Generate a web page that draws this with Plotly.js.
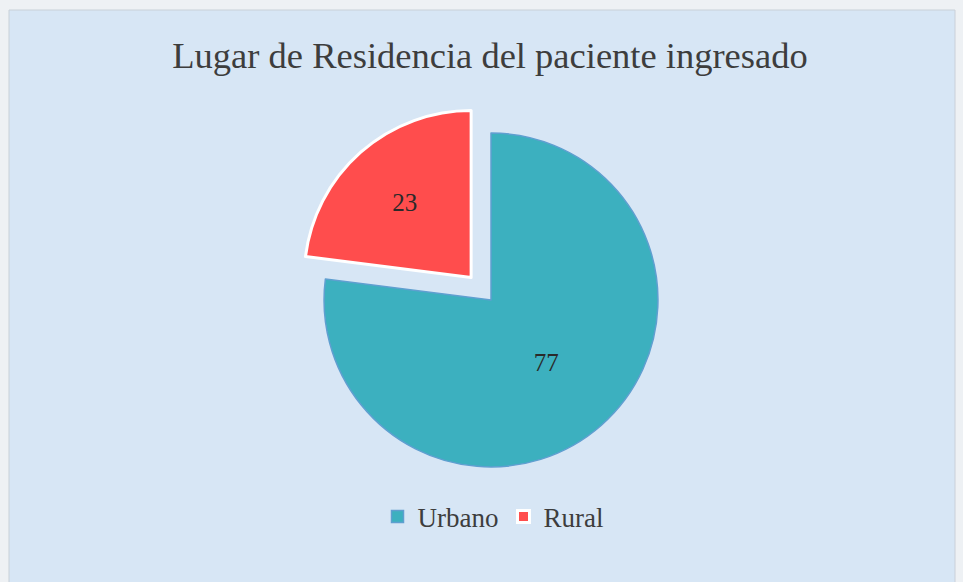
<!DOCTYPE html>
<html>
<head>
<meta charset="utf-8">
<script src="https://cdn.plot.ly/plotly-3.0.1.min.js"></script>
<style>
html,body{margin:0;padding:0;background:#ffffff;}
#chart{width:963px;height:582px;}
</style>
</head>
<body>
<div id="chart"></div>
<script>
var categories = ["Urbano", "Rural"];
var values = [77, 23];
var sliceColors = ["#3CB0BF", "#FF4D4D"];
var titleText = "Lugar de Residencia del paciente ingresado";

var W = 963, H = 582;
var cx = 491, cy = 300, box = 394;

var trace = {
  type: "pie",
  labels: categories,
  values: values,
  sort: false,
  direction: "clockwise",
  rotation: 0,
  pull: [0, 0.18],
  textinfo: "value",
  textposition: "inside",
  insidetextorientation: "horizontal",
  textfont: {family: "Liberation Serif, DejaVu Serif, serif", size: 25, color: "#2a2a2a"},
  marker: {
    colors: sliceColors,
    line: {color: ["#5f9fd0", "#ffffff"], width: [1.5, 3]}
  },
  domain: {
    x: [(cx - box / 2) / W, (cx + box / 2) / W],
    y: [(H - cy - box / 2) / H, (H - cy + box / 2) / H]
  },
  hoverinfo: "label+value"
};

var layout = {
  width: W,
  height: H,
  margin: {l: 0, r: 0, t: 0, b: 0},
  paper_bgcolor: "#eef1f4",
  shapes: [{
    type: "rect", xref: "paper", yref: "paper", layer: "below",
    x0: 9 / W, x1: 955 / W, y0: -0.01, y1: (H - 10) / H,
    fillcolor: "#d7e6f5", line: {color: "#c9d0d8", width: 1}
  }],
  title: {
    text: titleText,
    x: 490 / W, xanchor: "center",
    y: (H - 55) / H, yanchor: "middle",
    font: {family: "Liberation Serif, DejaVu Serif, serif", size: 36.5, color: "#3d3d3d"}
  },
  showlegend: true,
  legend: {
    orientation: "h",
    x: 493 / W, xanchor: "center",
    y: (H - 517) / H, yanchor: "middle",
    font: {family: "Liberation Serif, DejaVu Serif, serif", size: 27, color: "#3d3d3d"},
    bgcolor: "rgba(0,0,0,0)",
    traceorder: "normal",
    itemwidth: 30
  }
};

Plotly.newPlot("chart", [trace], layout, {displayModeBar: false, staticPlot: true});
</script>
</body>
</html>
